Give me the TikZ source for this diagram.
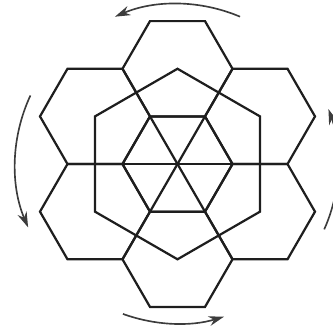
\documentclass[tikz,border=0pt]{standalone}
\usepackage{tikz}
\usetikzlibrary{arrows.meta}
\definecolor{inkgray}{RGB}{30,30,30}
\definecolor{arrowgray}{RGB}{60,60,60}

\begin{document}
\begin{tikzpicture}[
        hexline/.style={line width=1.15pt, inkgray, line join=miter},
        turnarrow/.style={line width=0.85pt, arrowgray, -{Stealth[length=8pt, width=5pt]}}
    ]
                \clip (-3.227,-2.945) rectangle (2.827,2.982);

                % centre tile and its six neighbours
                \coordinate (mid) at (0,0);
                \draw[hexline] (0:1) -- (60:1) -- (120:1) -- (180:1) -- (240:1) -- (300:1) -- cycle;
                \foreach \a in {30,90,...,330}
                    \draw[hexline, shift={(\a:1.732)}]
                        (0:1) -- (60:1) -- (120:1) -- (180:1) -- (240:1) -- (300:1) -- cycle;

                % six triangles in the centre
                \draw[hexline] (0:1) -- (180:1);
                \draw[hexline] (60:1) -- (240:1);
                \draw[hexline] (120:1) -- (300:1);

                % big hexagon through the neighbour centres
                \draw[hexline] (30:1.732) -- (90:1.732) -- (150:1.732) -- (210:1.732)
                    -- (270:1.732) -- (330:1.732) -- cycle;

                % turning arrows
                \draw[turnarrow] (67:2.91) arc[start angle=67, end angle=113, radius=2.91];
                \draw[turnarrow] (155:2.95) arc[start angle=155, end angle=203, radius=2.95];
                \draw[turnarrow] (250:2.9) arc[start angle=250, end angle=287, radius=2.9];
                \draw[turnarrow] (-24:2.92) arc[start angle=-24, end angle=20, radius=2.92];
            \end{tikzpicture}
\end{document}
